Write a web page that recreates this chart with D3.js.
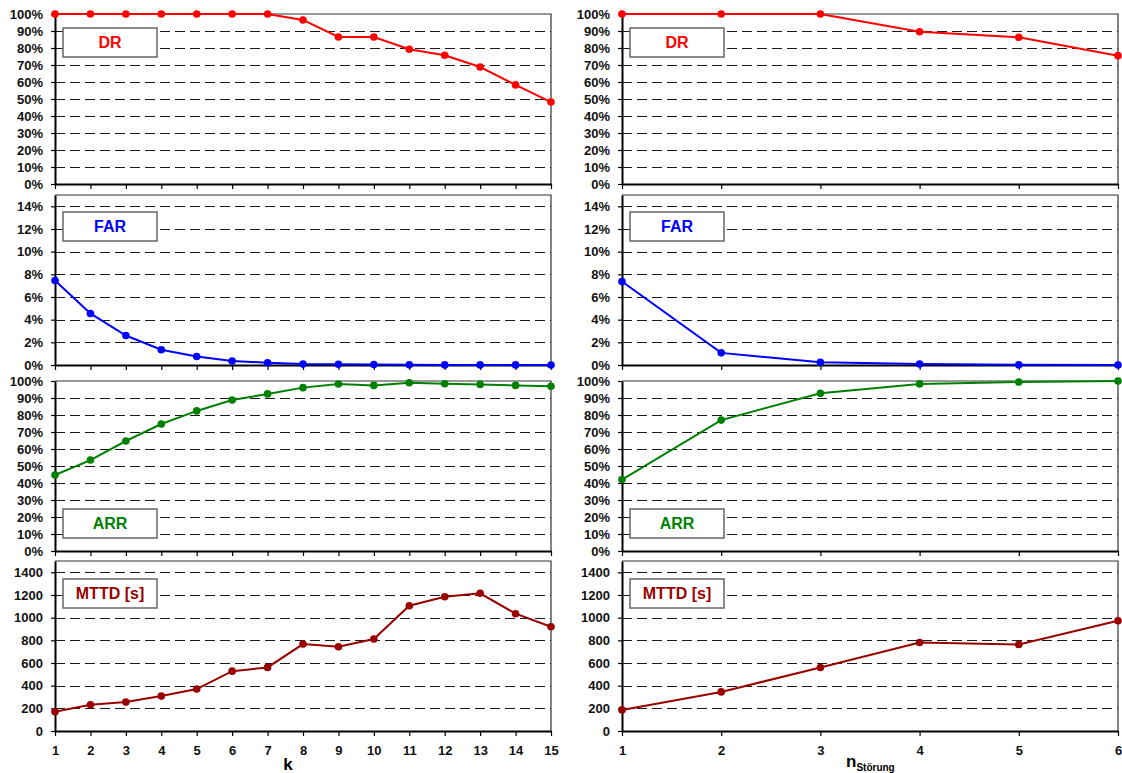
<!DOCTYPE html>
<html>
<head>
<meta charset="utf-8">
<script src="https://cdn.jsdelivr.net/npm/d3@7"></script>
<style>
body { margin: 0; background: #fff; }
svg { font-family: "Liberation Sans", Arial, sans-serif; font-weight: bold; }
</style>
</head>
<body>
<svg id="chart" width="1122" height="773"></svg>
<script>
// categories
const kCats = [1, 2, 3, 4, 5, 6, 7, 8, 9, 10, 11, 12, 13, 14, 15];
const nCats = [1, 2, 3, 4, 5, 6];

// left column (over k)
const drK = [100, 100, 100, 100, 100, 100, 100, 96.5, 86.5, 86.5, 79.3, 75.7, 68.8, 58.3, 48.2];
const farK = [7.45, 4.55, 2.6, 1.35, 0.75, 0.35, 0.2, 0.08, 0.06, 0.05, 0.02, 0.01, 0.01, 0.01, 0.0];
const arrK = [44.7, 53.5, 64.7, 74.7, 82.4, 88.8, 92.4, 96.1, 98.2, 97.4, 99.0, 98.4, 98.0, 97.4, 96.9];
const mttdK = [170, 232, 255, 308, 370, 528, 561, 767, 744, 812, 1105, 1185, 1215, 1035, 920];

// right column (over n_Störung)
const drN = [100, 100, 100, 89.6, 86.3, 75.5];
const farN = [7.37, 1.07, 0.24, 0.09, 0.02, 0.0];
const arrN = [42.0, 77.0, 92.8, 98.3, 99.4, 100];
const mttdN = [186, 345, 560, 781, 764, 973];

// tick labels
const pctTicks = [0, 10, 20, 30, 40, 50, 60, 70, 80, 90, 100];
const farTicks = [0, 2, 4, 6, 8, 10, 12, 14];
const mttdTicks = [0, 200, 400, 600, 800, 1000, 1200, 1400];

const metricNames = ["DR", "FAR", "ARR", "MTTD [s]"];
const metricColors = ["#ff0000", "#0000ff", "#008000", "#990000"];

const svg = d3.select("#chart");

const panelTops = [14, 195, 381, 561];
const panelH = 170;
const boxOffsets = [14, 17, 128, 18];

const metrics = [
    { max: 100, ticks: pctTicks, pct: true },
    { max: 15, ticks: farTicks, pct: true },
    { max: 100, ticks: pctTicks, pct: true },
    { max: 1500, ticks: mttdTicks, pct: false }
];

const columns = [
    { x0: 55, x1: 551, cats: kCats, series: [drK, farK, arrK, mttdK] },
    { x0: 622, x1: 1118, cats: nCats, series: [drN, farN, arrN, mttdN] }
];

columns.forEach((col) => {
    const x = d3.scaleLinear()
        .domain([col.cats[0], col.cats[col.cats.length - 1]])
        .range([col.x0, col.x1]);

    metrics.forEach((m, i) => {
        const top = panelTops[i];
        const y = d3.scaleLinear()
            .domain([0, m.max])
            .range([top + panelH, top]);
        const g = svg.append("g");

        // dashed grid
        g.selectAll("line.grid")
            .data(m.ticks.filter((t) => t > 0 && t < m.max))
            .enter().append("line")
            .attr("class", "grid")
            .attr("x1", col.x0).attr("x2", col.x1)
            .attr("y1", (d) => Math.round(y(d)) + 0.5)
            .attr("y2", (d) => Math.round(y(d)) + 0.5)
            .attr("stroke", "#1a1a1a")
            .attr("stroke-width", 1)
            .attr("stroke-dasharray", "10,5");

        // frame top / right
        g.append("path")
            .attr("d", `M${col.x0},${y(m.max)}H${col.x1}V${y(0)}`)
            .attr("fill", "none")
            .attr("stroke", "#333")
            .attr("stroke-width", 1.2);

        // y axis
        const ya = g.append("g")
            .attr("transform", `translate(${col.x0},0)`)
            .call(d3.axisLeft(y)
                .tickValues(m.ticks)
                .tickSize(4)
                .tickSizeOuter(0)
                .tickPadding(8)
                .tickFormat((d) => m.pct ? d + "%" : d));

        // x axis
        const last = i === metrics.length - 1;
        const xa = g.append("g")
            .attr("transform", `translate(0,${y(0)})`)
            .call(d3.axisBottom(x)
                .tickValues(col.cats)
                .tickSize(5)
                .tickSizeOuter(0)
                .tickPadding(10)
                .tickFormat((d) => last ? d : ""));

        [ya, xa].forEach((a) => {
            a.select(".domain").attr("stroke", "#000").attr("stroke-width", 2);
            a.selectAll(".tick line").attr("stroke", "#000").attr("stroke-width", 1.2);
            a.selectAll(".tick text")
                .attr("fill", "#111")
                .style("font-size", "13px")
                .style("font-weight", "bold")
                .style("font-family", "'Liberation Sans', Arial, sans-serif");
        });

        // label box
        const bx = col.x0 + 8, by = top + boxOffsets[i];
        g.append("rect")
            .attr("x", bx).attr("y", by)
            .attr("width", 94).attr("height", 29)
            .attr("fill", "#fff")
            .attr("stroke", "#666")
            .attr("stroke-width", 1.5);
        g.append("text")
            .attr("x", bx + 47).attr("y", by + 20)
            .attr("text-anchor", "middle")
            .attr("fill", metricColors[i])
            .style("font-size", "16px")
            .text(metricNames[i]);

        // series
        const data = col.series[i].map((v, j) => [col.cats[j], v]);
        g.append("path")
            .datum(data)
            .attr("fill", "none")
            .attr("stroke", metricColors[i])
            .attr("stroke-width", 2)
            .attr("d", d3.line().x((d) => x(d[0])).y((d) => y(d[1])));
        g.selectAll("circle")
            .data(data)
            .enter().append("circle")
            .attr("cx", (d) => x(d[0]))
            .attr("cy", (d) => y(d[1]))
            .attr("r", 3.8)
            .attr("fill", metricColors[i]);
    });
});

// axis titles
svg.append("text")
    .attr("x", 288).attr("y", 770)
    .attr("text-anchor", "middle")
    .style("font-size", "17px")
    .text("k");

const nt = svg.append("text")
    .attr("x", 846).attr("y", 767)
    .style("font-size", "17px");
nt.append("tspan").text("n");
nt.append("tspan")
    .attr("dy", 4)
    .style("font-size", "10px")
    .text("Störung");
</script>
</body>
</html>
